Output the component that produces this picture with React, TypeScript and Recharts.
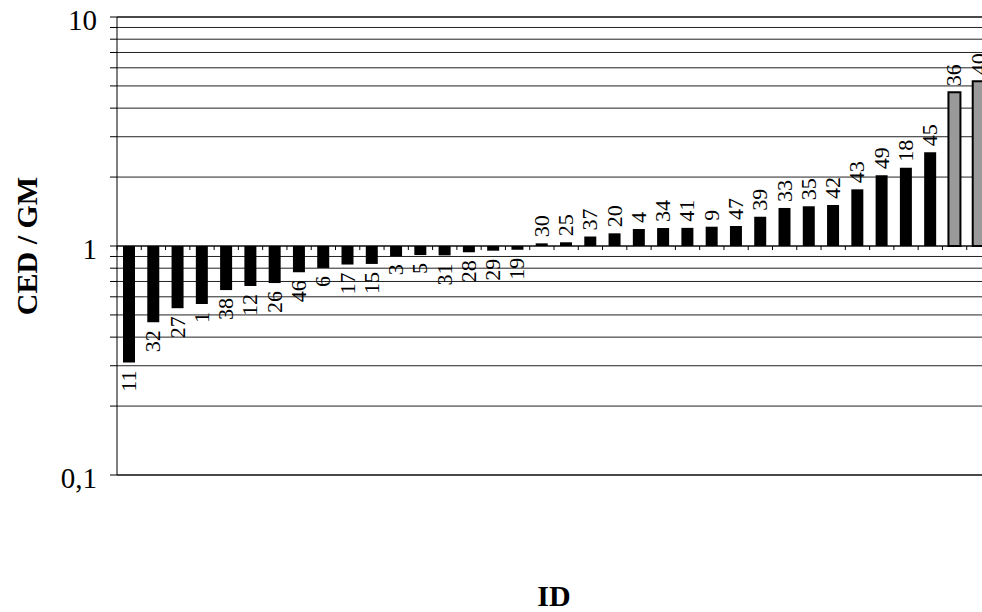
import React from 'react';
import {
  BarChart,
  Bar,
  XAxis,
  YAxis,
  CartesianGrid,
  ReferenceLine,
  LabelList,
  Cell,
} from 'recharts';

// Sample IDs, ordered by ratio
const ids = [
  '11', '32', '27', '1', '38', '12', '26', '46', '6', '17', '15', '3',
  '5', '31', '28', '29', '19', '30', '25', '37', '20', '4', '34', '41',
  '9', '47', '39', '33', '35', '42', '43', '49', '18', '45', '36', '40',
];

// CED / GM ratio per ID
const ratios = [
  0.31, 0.464, 0.535, 0.558, 0.642, 0.669, 0.689, 0.768, 0.802, 0.83, 0.835, 0.902,
  0.913, 0.91, 0.939, 0.954, 0.963, 1.027, 1.038, 1.1, 1.136, 1.186, 1.198, 1.2,
  1.214, 1.223, 1.342, 1.466, 1.491, 1.51, 1.768, 2.036, 2.198, 2.566, 4.69, 5.24,
];

// IDs drawn as grey outlined bars
const highlighted = ['36', '40'];

// Log axis ticks: one per gridline, labels only on decades
const yTicks = [
  0.1, 0.2, 0.3, 0.4, 0.5, 0.6, 0.7, 0.8, 0.9,
  1, 2, 3, 4, 5, 6, 7, 8, 9, 10,
];
const yLabels: Record<string, string> = { '0.1': '0,1', '1': '1', '10': '10' };

const baseline = 1;

const data = ids.map((id, i) => ({ id, v: ratios[i] }));

const FONT = '"Liberation Serif", "Times New Roman", Times, serif';

const YTick = (props: any) => {
  const { x, y, payload } = props;
  const label = yLabels[String(payload.value)] ?? '';
  if (!label) return null;
  return (
    <text x={x} y={y + 13} textAnchor="end" fontFamily={FONT} fontSize={29} fill="#000">
      {label}
    </text>
  );
};

const BarLabel = (props: any) => {
  const { x, y, width, height, value, index } = props;
  const below = data[index].v < baseline;
  const cx = x + width / 2;
  const cy = below ? y + height + 8 : y - 6;
  return (
    <g transform={`translate(${cx}, ${cy}) rotate(-90)`}>
      <text
        x={0}
        y={7}
        textAnchor={below ? 'end' : 'start'}
        fontFamily={FONT}
        fontSize={22}
        fill="#000"
      >
        {value}
      </text>
    </g>
  );
};

const YTitle = (props: any) => {
  const vb = props.viewBox || {};
  const cx = 26;
  const cy = vb.y + vb.height / 2;
  return (
    <text
      x={cx}
      y={cy}
      transform={`rotate(-90, ${cx}, ${cy})`}
      textAnchor="middle"
      dominantBaseline="central"
      fontFamily={FONT}
      fontSize={30}
      fontWeight="bold"
      fill="#000"
    >
      CED / GM
    </text>
  );
};

const XTitle = (props: any) => {
  const vb = props.viewBox || {};
  const cx = vb.x + vb.width / 2;
  return (
    <text
      x={cx}
      y={vb.y + vb.height - 6}
      textAnchor="middle"
      fontFamily={FONT}
      fontSize={30}
      fontWeight="bold"
      fill="#000"
    >
      ID
    </text>
  );
};

export default function App() {
  return (
    <div
      style={{
        position: 'fixed',
        left: 0,
        top: 0,
        width: 982,
        height: 612,
        overflow: 'hidden',
        background: '#fff',
      }}
    >
      <BarChart
        width={1000}
        height={612}
        data={data}
        margin={{ top: 17, right: 9, bottom: 0, left: 0 }}
      >
        <CartesianGrid vertical={false} stroke="#222" strokeWidth={1} />
        <XAxis
          dataKey="id"
          type="category"
          height={137}
          tick={false}
          tickLine={false}
          axisLine={false}
          label={<XTitle />}
        />
        <YAxis
          type="number"
          scale="log"
          domain={[0.1, 10]}
          ticks={yTicks}
          interval={0}
          allowDataOverflow
          width={117}
          tickSize={7}
          tickMargin={13}
          tick={<YTick />}
          tickLine={{ stroke: '#000' }}
          axisLine={{ stroke: '#000' }}
          label={<YTitle />}
        />
        <ReferenceLine y={10} stroke="#000" />
        <ReferenceLine y={0.1} stroke="#000" />
        <ReferenceLine y={baseline} stroke="#000" />
        {ids.map((id) => (
          <ReferenceLine
            key={`t-${id}`}
            segment={[
              { x: id, y: baseline },
              { x: id, y: 0.96 },
            ]}
            position="start"
            stroke="#000"
          />
        ))}
        <ReferenceLine
          segment={[
            { x: ids[ids.length - 1], y: baseline },
            { x: ids[ids.length - 1], y: 0.96 },
          ]}
          position="end"
          stroke="#000"
        />
        <Bar
          dataKey={(d: any) => [Math.min(d.v, baseline), Math.max(d.v, baseline)]}
          barSize={12}
          isAnimationActive={false}
        >
          {data.map((d) => {
            const hl = highlighted.includes(d.id);
            return (
              <Cell
                key={d.id}
                fill={hl ? '#9a9a9a' : '#000'}
                stroke="#000"
                strokeWidth={hl ? 2 : 0}
              />
            );
          })}
          <LabelList dataKey="id" content={<BarLabel />} />
        </Bar>
      </BarChart>
    </div>
  );
}
